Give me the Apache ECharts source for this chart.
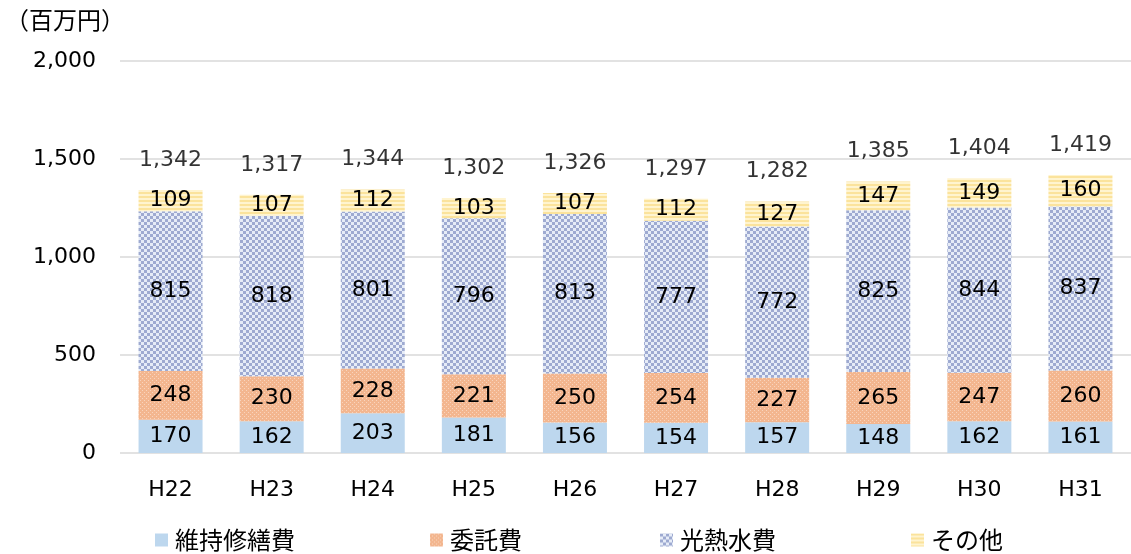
<!DOCTYPE html>
<html lang="ja">
<head>
<meta charset="UTF-8">
<title>Chart</title>
<script src="https://cdn.jsdelivr.net/npm/echarts@6/dist/echarts.min.js"></script>
<style>
  html, body { margin: 0; padding: 0; background: #fff; }
  #main { width: 1131px; height: 554px; }
</style>
</head>
<body>
<div id="main"></div>
<script>
var categories = ['H22', 'H23', 'H24', 'H25', 'H26', 'H27', 'H28', 'H29', 'H30', 'H31'];
var maintenance = [170, 162, 203, 181, 156, 154, 157, 148, 162, 161];
var outsourcing = [248, 230, 228, 221, 250, 254, 227, 265, 247, 260];
var utilities = [815, 818, 801, 796, 813, 777, 772, 825, 844, 837];
var others = [109, 107, 112, 103, 107, 112, 127, 147, 149, 160];
var totals = [1342, 1317, 1344, 1302, 1326, 1297, 1282, 1385, 1404, 1419];
var seriesNames = ['維持修繕費', '委託費', '光熱水費', 'その他'];

function makePattern(size, draw) {
    var c = document.createElement('canvas');
    c.width = size;
    c.height = size;
    draw(c.getContext('2d'));
    return { image: c, repeat: 'repeat' };
}

// orange dotted fill
var orangeFill = makePattern(4, function (ctx) {
    ctx.fillStyle = '#F3B68F';
    ctx.fillRect(0, 0, 4, 4);
    ctx.fillStyle = '#F9D4BD';
    ctx.fillRect(0, 0, 1, 1);
    ctx.fillRect(2, 2, 1, 1);
});
// checkered blue fill
var checkFill = makePattern(6, function (ctx) {
    ctx.fillStyle = '#E6ECF7';
    ctx.fillRect(0, 0, 6, 6);
    ctx.fillStyle = '#9EAAD1';
    ctx.fillRect(0, 0, 3, 3);
    ctx.fillRect(3, 3, 3, 3);
});
// yellow horizontal stripes
var stripeFill = makePattern(4, function (ctx) {
    ctx.fillStyle = '#FFF4CF';
    ctx.fillRect(0, 0, 4, 4);
    ctx.fillStyle = '#FBE39C';
    ctx.fillRect(0, 0, 4, 2);
});

var fontNum = 'DejaVu Sans';
var fontJp = '"Noto Sans CJK JP", "DejaVu Sans"';

function barSeries(name, data, color) {
    return {
        name: name,
        type: 'bar',
        stack: 'total',
        barWidth: 64,
        data: data,
        itemStyle: { color: color },
        label: {
            show: true,
            position: 'inside',
            color: '#000',
            fontFamily: fontNum,
            fontSize: 22
        }
    };
}

var chart = echarts.init(document.getElementById('main'));

var legendLefts = [150, 425, 655, 906];
var legendColors = ['#BDD7EE', orangeFill, checkFill, stripeFill];

var option = {
    animation: false,
    backgroundColor: '#fff',
    grid: { left: 120, top: 61, width: 1018, bottom: 101 },
    title: {
        text: '（百万円）',
        left: 0,
        top: 3,
        textStyle: { fontFamily: fontJp, fontSize: 24, fontWeight: 'normal', color: '#000' }
    },
    legend: seriesNames.map(function (n, i) {
        return {
            data: [n],
            left: legendLefts[i],
            top: 523,
            itemWidth: 13,
            itemHeight: 13,
            itemGap: 0,
            icon: 'rect',
            textStyle: { fontFamily: fontJp, fontSize: 24, color: '#000', padding: [0, 0, 0, 2] }
        };
    }),
    xAxis: {
        type: 'category',
        data: categories,
        axisLine: { show: false },
        axisTick: { show: false },
        axisLabel: { color: '#000', fontFamily: fontNum, fontSize: 22, margin: 26 }
    },
    yAxis: {
        type: 'value',
        min: 0,
        max: 2000,
        interval: 500,
        axisLine: { show: false },
        axisTick: { show: false },
        splitLine: { lineStyle: { color: '#D9D9D9', width: 1.5 } },
        axisLabel: {
            color: '#000',
            fontFamily: fontNum,
            fontSize: 22,
            margin: 24,
            formatter: function (v) { return v.toLocaleString('en-US'); }
        }
    },
    series: [
        barSeries(seriesNames[0], maintenance, legendColors[0]),
        barSeries(seriesNames[1], outsourcing, legendColors[1]),
        barSeries(seriesNames[2], utilities, legendColors[2]),
        barSeries(seriesNames[3], others, legendColors[3]),
        {
            name: '合計',
            type: 'scatter',
            symbolSize: 0,
            data: totals,
            silent: true,
            label: {
                show: true,
                position: 'top',
                distance: 19,
                color: '#000',
                fontFamily: fontNum,
                fontSize: 22,
                formatter: function (p) { return p.value.toLocaleString('en-US'); }
            }
        }
    ]
};
chart.setOption(option);
</script>
</body>
</html>
